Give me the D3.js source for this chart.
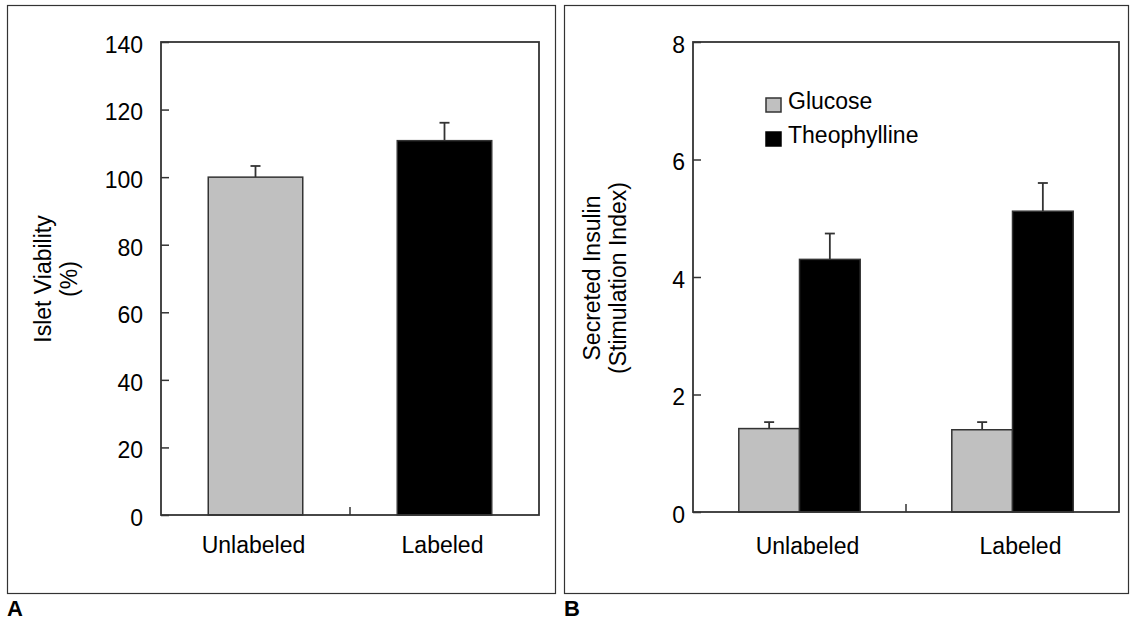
<!DOCTYPE html>
<html>
<head>
<meta charset="utf-8">
<script src="https://cdn.jsdelivr.net/npm/d3@7"></script>
<style>
  body { margin: 0; background: #fff; }
  svg { display: block; font-family: "Liberation Sans", Arial, sans-serif; }
</style>
</head>
<body>
<svg id="chart" width="1135" height="623"></svg>
<script>
// panel A: islet viability
var viabilityGroups = ["Unlabeled", "Labeled"];
var viabilityValues = [100, 110.8];
var viabilityErrors = [3.3, 5.3];
var viabilityColors = ["#c0c0c0", "#000000"];
var viabilityTicks = [0, 20, 40, 60, 80, 100, 120, 140];

// panel B: secreted insulin
var insulinGroups = ["Unlabeled", "Labeled"];
var insulinSeries = ["Glucose", "Theophylline"];
var glucoseValues = [1.42, 1.40];
var glucoseErrors = [0.11, 0.13];
var theophyllineValues = [4.30, 5.12];
var theophyllineErrors = [0.44, 0.48];
var insulinColors = ["#c0c0c0", "#000000"];
var insulinTicks = [0, 2, 4, 6, 8];

var svg = d3.select("#chart");
var axisColor = "#333";
var fontSize = 23;

/**
 * Frame, y axis, x labels and middle tick shared by both panels.
 */
function drawFrame(p) {
    // outer frame and panel letter
    svg.append("rect")
        .attr("x", p.frame[0] + 0.5).attr("y", p.frame[1] + 0.5)
        .attr("width", p.frame[2] - p.frame[0]).attr("height", p.frame[3] - p.frame[1])
        .attr("fill", "none").attr("stroke", axisColor).attr("stroke-width", 1.2);
    svg.append("text")
        .text(p.letter)
        .attr("x", p.frame[0]).attr("y", 616)
        .attr("font-size", "22px").attr("font-weight", "bold").attr("fill", "#000");

    var g = svg.append("g");

    var yAxis = d3.axisLeft(p.y)
        .tickValues(p.ticks)
        .tickSizeInner(-8)
        .tickSizeOuter(0)
        .tickPadding(p.tickPadding);
    var ya = g.append("g")
        .attr("transform", "translate(" + p.left + ",0)")
        .call(yAxis);
    ya.select(".domain").remove();
    ya.selectAll("line").attr("stroke", axisColor).attr("stroke-width", 1.5);
    ya.selectAll("text")
        .attr("font-size", fontSize + "px").attr("font-family", "Liberation Sans, Arial, sans-serif")
        .attr("fill", "#000").attr("dy", "0.45em");

    var xAxis = d3.axisBottom(p.x).tickSize(0).tickPadding(p.xPadding);
    var xa = g.append("g")
        .attr("transform", "translate(0," + p.bottom + ")")
        .call(xAxis);
    xa.select(".domain").remove();
    xa.selectAll("text")
        .attr("font-size", fontSize + "px").attr("font-family", "Liberation Sans, Arial, sans-serif")
        .attr("fill", "#000").attr("dx", p.labelShift);

    // tick between the two groups
    var mid = p.x(p.x.domain()[1]) - p.x.step() * p.x.paddingInner() / 2;
    g.append("line")
        .attr("x1", mid).attr("x2", mid)
        .attr("y1", p.bottom).attr("y2", p.bottom - 8)
        .attr("stroke", axisColor).attr("stroke-width", 1.5);

    return g;
}

function drawBox(g, p) {
    g.append("rect")
        .attr("x", p.left).attr("y", p.top)
        .attr("width", p.right - p.left).attr("height", p.bottom - p.top)
        .attr("fill", "none").attr("stroke", axisColor).attr("stroke-width", 1.8);
}

function drawBar(g, x, w, value, err, color, y) {
    var cx = x + w / 2;
    // upper error bar only
    g.append("line")
        .attr("x1", cx).attr("x2", cx)
        .attr("y1", y(value)).attr("y2", y(value + err))
        .attr("stroke", axisColor).attr("stroke-width", 1.8);
    g.append("line")
        .attr("x1", cx - 5).attr("x2", cx + 5)
        .attr("y1", y(value + err)).attr("y2", y(value + err))
        .attr("stroke", axisColor).attr("stroke-width", 1.8);
    g.append("rect")
        .attr("x", x).attr("y", y(value))
        .attr("width", w).attr("height", y(0) - y(value))
        .attr("fill", color)
        .attr("stroke", axisColor).attr("stroke-width", 1.5);
}

// ---- panel A ----
var pa = { frame: [7, 5, 555, 593], letter: "A", left: 161, right: 539, top: 42, bottom: 515,
           ticks: viabilityTicks, tickPadding: 18, xPadding: 22, labelShift: -2 };
pa.y = d3.scaleLinear().domain([0, 140]).range([pa.bottom, pa.top]);
pa.x = d3.scaleBand().domain(viabilityGroups).range([pa.left, pa.right])
    .paddingInner(0.5).paddingOuter(0.25);
var ga = drawFrame(pa);
viabilityGroups.forEach(function(c, i) {
    drawBar(ga, pa.x(c), pa.x.bandwidth(), viabilityValues[i], viabilityErrors[i], viabilityColors[i], pa.y);
});
drawBox(ga, pa);

// y label A
svg.append("text")
    .attr("transform", "translate(51,279) rotate(-90)")
    .attr("text-anchor", "middle").attr("font-size", fontSize + "px").attr("fill", "#000")
    .selectAll("tspan").data(["Islet Viability", "(%)"]).enter().append("tspan")
    .attr("x", 0).attr("dy", function(d, i) { return i ? 26 : 0; })
    .text(function(d) { return d; });

// ---- panel B ----
var pb = { frame: [564, 5, 1128, 593], letter: "B", left: 693, right: 1119, top: 42, bottom: 512,
           ticks: insulinTicks, tickPadding: 8, xPadding: 26, labelShift: 8 };
pb.y = d3.scaleLinear().domain([0, 8]).range([pb.bottom, pb.top]);
pb.x = d3.scaleBand().domain(insulinGroups).range([pb.left, pb.right])
    .paddingInner(0.43).paddingOuter(0.215);
var inner = d3.scaleBand().domain(insulinSeries).range([0, pb.x.bandwidth()]);
var gb = drawFrame(pb);
var seriesValues = [glucoseValues, theophyllineValues];
var seriesErrors = [glucoseErrors, theophyllineErrors];
insulinGroups.forEach(function(c, i) {
    insulinSeries.forEach(function(s, j) {
        drawBar(gb, pb.x(c) + inner(s), inner.bandwidth(), seriesValues[j][i], seriesErrors[j][i], insulinColors[j], pb.y);
    });
});
drawBox(gb, pb);

// legend B
var legend = svg.append("g").attr("transform", "translate(766,98)");
insulinSeries.forEach(function(s, j) {
    var row = legend.append("g").attr("transform", "translate(0," + (j * 34) + ")");
    row.append("rect")
        .attr("x", 0).attr("y", 0).attr("width", 15).attr("height", 14)
        .attr("fill", insulinColors[j]).attr("stroke", j ? "#000" : axisColor).attr("stroke-width", 1.5);
    row.append("text")
        .text(s)
        .attr("x", 22).attr("y", 11).attr("font-size", fontSize + "px").attr("fill", "#000");
});

// y label B
svg.append("text")
    .attr("transform", "translate(600,278) rotate(-90)")
    .attr("text-anchor", "middle").attr("font-size", fontSize + "px").attr("fill", "#000")
    .selectAll("tspan").data(["Secreted Insulin", "(Stimulation Index)"]).enter().append("tspan")
    .attr("x", 0).attr("dy", function(d, i) { return i ? 26 : 0; })
    .text(function(d) { return d; });
</script>
</body>
</html>
